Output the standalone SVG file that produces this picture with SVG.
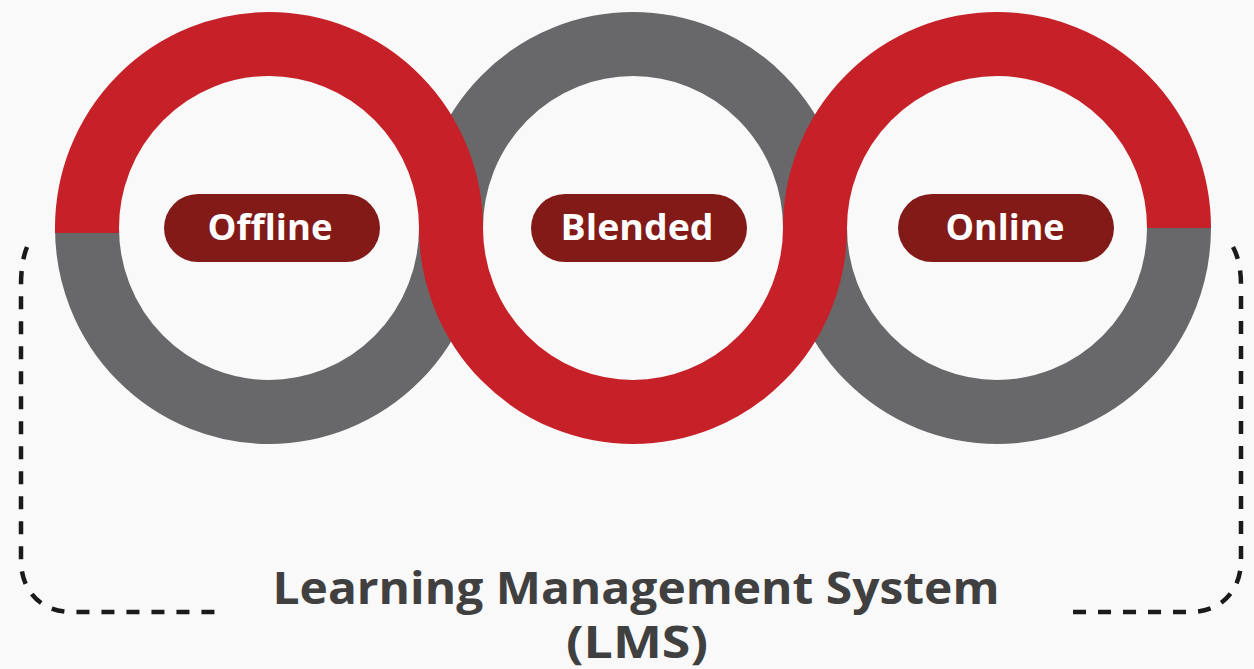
<svg xmlns="http://www.w3.org/2000/svg" width="1254" height="669" viewBox="0 0 1254 669">
  <style>
    .gray { fill: none; stroke: #68686A; stroke-width: 64; }
    .red { fill: none; stroke: #C62128; stroke-width: 64; }
    .pill { fill: #821A17; }
    .pilltext { font-family: "Open Sans", "Liberation Sans", sans-serif; font-weight: 700; font-size: 36px; fill: #FFFFFF; text-anchor: middle; }
    .title { font-family: "Open Sans", "Liberation Sans", sans-serif; font-weight: 700; font-size: 44px; fill: #404041; text-anchor: middle; }
    .dash { fill: none; stroke: #1A1A1A; stroke-width: 4.5; stroke-dasharray: 13 12; }
  </style>
  <rect width="1254" height="669" fill="#F9F9F9"/>

  <g id="rings">
    <path class="gray" d="M 87 233 L 87 228 A 182 184 0 0 0 451 228"/>
    <path class="gray" d="M 451 228 A 182 184 0 0 1 815 228"/>
    <path class="gray" d="M 815 228 A 182 184 0 0 0 1179 228"/>
    <path class="red" d="M 87 233 L 87 228 A 182 184 0 0 1 451 228 A 182 184 0 0 0 815 228 A 182 184 0 0 1 1179 228"/>
  </g>

  <g id="node-offline">
    <rect class="pill" x="164" y="194" width="216" height="68" rx="34"/>
    <text class="pilltext" x="270" y="240" textLength="125" lengthAdjust="spacingAndGlyphs">Offline</text>
  </g>
  <g id="node-blended">
    <rect class="pill" x="531" y="194" width="216" height="68" rx="34"/>
    <text class="pilltext" x="637" y="240" textLength="153" lengthAdjust="spacingAndGlyphs">Blended</text>
  </g>
  <g id="node-online">
    <rect class="pill" x="898" y="194" width="216" height="68" rx="34"/>
    <text class="pilltext" x="1005" y="240" textLength="119" lengthAdjust="spacingAndGlyphs">Online</text>
  </g>

  <g id="connectors">
    <path class="dash" d="M 27 247 Q 21 262 21 285 L 21 560 C 21 592 42 612 72 612 L 224 612"/>
    <path class="dash" d="M 1233 247 Q 1241 262 1241 285 L 1241 560 C 1241 592 1220 612 1190 612 L 1066 612"/>
  </g>

  <g id="node-lms">
    <text class="title"><tspan x="636" y="604" textLength="727" lengthAdjust="spacingAndGlyphs">Learning Management System</tspan><tspan x="637" y="658" textLength="142" lengthAdjust="spacingAndGlyphs">(LMS)</tspan></text>
  </g>
</svg>
